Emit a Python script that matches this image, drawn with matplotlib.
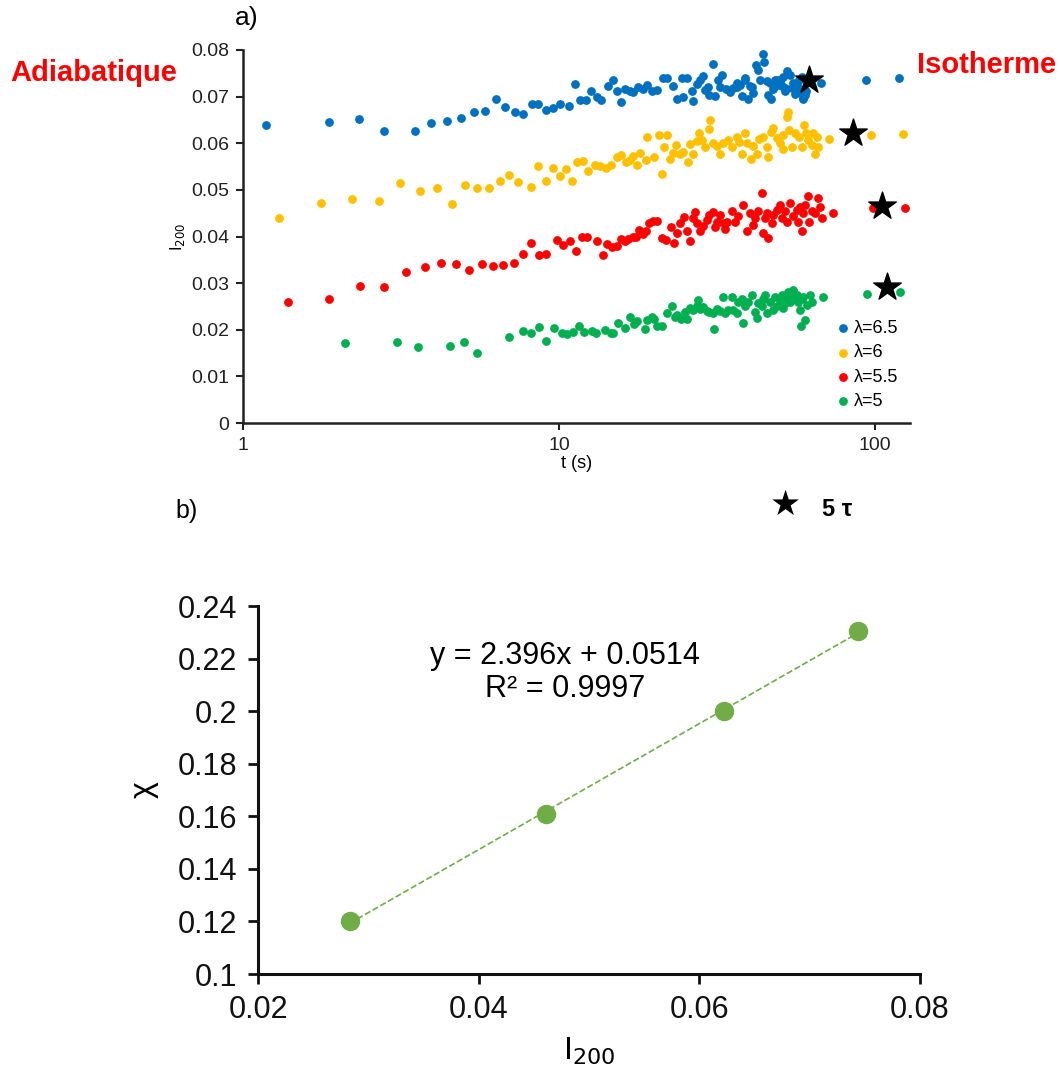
import matplotlib
matplotlib.use("Agg")
import matplotlib.pyplot as plt
import numpy as np

plt.rcParams['font.family'] = ['Liberation Sans', 'DejaVu Sans']

# ---- panel a) : I200 versus time, one series per lambda ----
t_65 = [1.18, 1.87, 2.32, 2.80, 3.50, 3.94, 4.43, 4.90, 5.37, 5.83, 6.32,
        6.75, 7.26, 7.71, 8.19, 8.60, 9.10, 9.55, 10.07, 10.78, 11.23, 11.65, 12.17,
        12.60, 13.16, 13.55, 14.33, 14.79, 15.22, 15.67, 16.18, 16.78, 17.19, 17.83,
        18.40, 18.95, 19.65, 20.38, 21.39, 21.91, 22.89, 23.57, 24.44, 24.62, 25.35,
        26.29, 26.49, 27.28, 27.94, 28.63, 28.97, 29.7, 29.91, 30.65, 31.17, 31.94,
        32.3, 32.73, 33.78, 34.78, 35.63, 36.5, 36.68, 37.4, 37.86, 38.77, 38.8, 39.73,
        40.2, 40.72, 41.2, 42.03, 42.75, 43.27, 44.12, 44.55, 45.43, 45.98, 46.5,
        46.77, 47.69, 48.3, 49.4, 49.45, 50.06, 50.7, 51.29, 51.9, 51.91, 52.81,
        53.83, 54.5, 55.2, 55.84, 56.5, 56.53, 57.62, 57.9, 58.6, 58.61, 59.3, 59.33,
        60.0, 60.5, 61.98, 67.47, 93.4, 119.1]
i_65 = [0.0639, 0.0646, 0.0651, 0.0627, 0.0627, 0.0644, 0.0647, 0.0654, 0.0667, 0.0670, 0.0694,
        0.0677, 0.0668, 0.0662, 0.0685, 0.0685, 0.0672, 0.0675, 0.0684, 0.0679, 0.0727, 0.0692, 0.0692,
        0.0713, 0.0700, 0.0692, 0.0723, 0.0736, 0.0713, 0.0688, 0.0716, 0.0713, 0.0709, 0.0720,
        0.0716, 0.0725, 0.0713, 0.0715, 0.0740, 0.0740, 0.0723, 0.0695, 0.0741, 0.0699, 0.0741,
        0.0711, 0.0690, 0.0728, 0.0736, 0.0745, 0.0715, 0.0720, 0.0704, 0.0770, 0.0702, 0.0736,
        0.0720, 0.0747, 0.0716, 0.0709, 0.0718, 0.0729, 0.0720, 0.0725, 0.0702, 0.0736, 0.0740, 0.0695,
        0.0722, 0.0720, 0.0707, 0.0768, 0.0758, 0.0736, 0.0791, 0.0774, 0.0733, 0.0704, 0.0729,
        0.0695, 0.0716, 0.0736, 0.0736, 0.0725, 0.0733, 0.0723, 0.0743, 0.0711, 0.0718, 0.0754,
        0.0747, 0.0718, 0.0730, 0.0706, 0.0725, 0.0722, 0.0736, 0.0709, 0.0707, 0.0743, 0.0695, 0.0697,
        0.0704, 0.0713, 0.0736, 0.0730, 0.0736, 0.0740]

t_6 = [1.30, 1.77, 2.22, 2.69, 3.15, 3.64, 4.11, 4.59, 5.04, 5.51, 5.99,
       6.51, 6.96, 7.43, 8.13, 8.60, 9.10, 9.55, 10.07, 10.52, 10.97, 11.43, 11.94,
       12.39, 13.00, 13.48, 14.09, 14.57, 15.30, 15.67, 16.29, 16.78, 17.11, 17.62,
       18.05, 18.85, 18.95, 19.98, 20.78, 21.14, 21.50, 22.02, 22.45, 22.89, 23.46,
       24.16, 24.75, 25.67, 25.98, 26.49, 27.28, 27.81, 28.29, 28.97, 29.91, 30.05,
       30.80, 31.70, 32.32, 33.12, 34.35, 35.19, 36.50, 37.22, 37.86, 38.77, 39.45,
       40.42, 41.21, 42.23, 43.05, 44.33, 45.43, 45.98, 46.77, 47.69, 48.86, 50.06,
       51.05, 51.29, 52.55, 53.19, 53.58, 54.50, 55.84, 57.62, 58.61, 59.62, 60.50,
       61.53, 63.04, 63.81, 64.59, 65.71, 66.19, 71.72, 97.1, 122.9]
i_6 = [0.0440, 0.0471, 0.0481, 0.0476, 0.0514, 0.0498, 0.0505, 0.0470, 0.0511, 0.0505, 0.0504,
       0.0518, 0.0532, 0.0516, 0.0507, 0.0552, 0.0520, 0.0547, 0.0530, 0.0544, 0.0520, 0.0559, 0.0562,
       0.0541, 0.0554, 0.0552, 0.0547, 0.0554, 0.0570, 0.0575, 0.0559, 0.0564, 0.0573, 0.0554,
       0.0579, 0.0564, 0.0614, 0.0570, 0.0618, 0.0534, 0.0592, 0.0618, 0.0566, 0.0580, 0.0597,
       0.0577, 0.0582, 0.0559, 0.0599, 0.0577, 0.0604, 0.0623, 0.0607, 0.0593, 0.0630, 0.0649,
       0.0600, 0.0595, 0.0577, 0.0600, 0.0607, 0.0593, 0.0613, 0.0602, 0.0577, 0.0622, 0.0600,
       0.0566, 0.0595, 0.0577, 0.0609, 0.0614, 0.0593, 0.0570, 0.0625, 0.0632, 0.0611, 0.0600,
       0.0587, 0.0618, 0.0657, 0.0668, 0.0629, 0.0593, 0.0622, 0.0613, 0.0593, 0.0640, 0.0622,
       0.0607, 0.0597, 0.0622, 0.0577, 0.0613, 0.0593, 0.0609, 0.0618, 0.0620]

t_55 = [1.39, 1.87, 2.35, 2.80, 3.27, 3.76, 4.23, 4.73, 5.20, 5.72, 6.20, 6.67, 7.20,
        7.69, 8.18, 8.67, 9.12, 9.88, 10.32, 10.83, 11.32, 11.80, 12.29, 13.22, 13.75,
        14.16, 14.68, 15.22, 15.67, 16.18, 16.57, 17.11, 17.53, 17.96, 18.40, 18.85,
        19.32, 19.89, 20.38, 21.14, 21.82, 22.56, 23.12, 23.57, 24.15, 24.87, 25.48,
        25.98, 26.49, 26.94, 27.41, 27.94, 28.63, 29.34, 29.91, 30.65, 31.17, 31.70,
        32.32, 32.96, 33.52, 33.93, 35.2, 36.1, 36.9, 38.3, 39.3, 40.2, 41.2, 41.7,
        42.7, 43.8, 44.3, 44.9, 45.4, 46.0, 47.1, 47.7, 48.9, 50.1, 50.7, 51.9, 52.5,
        53.8, 55.1, 56.5, 57.2, 57.9, 58.6, 59.3, 60.0, 61.5, 62.0, 63.0, 64.6, 66.2,
        67.0, 67.8, 73.8, 98.8, 124.4]
i_55 = [0.0260, 0.0267, 0.0293, 0.0292, 0.0323, 0.0334, 0.0343, 0.0341, 0.0329, 0.0340, 0.0336, 0.0338, 0.0344,
        0.0363, 0.0386, 0.0361, 0.0363, 0.0393, 0.0382, 0.0391, 0.0369, 0.0400, 0.0400, 0.0391, 0.0360,
        0.0384, 0.0377, 0.0380, 0.0394, 0.0391, 0.0394, 0.0398, 0.0398, 0.0413, 0.0406, 0.0411,
        0.0430, 0.0434, 0.0434, 0.0396, 0.0393, 0.0421, 0.0387, 0.0408, 0.0430, 0.0441, 0.0411,
        0.0391, 0.0439, 0.0453, 0.0430, 0.0411, 0.0423, 0.0436, 0.0446, 0.0453, 0.0420, 0.0432,
        0.0446, 0.0429, 0.0416, 0.0432, 0.0454, 0.0432, 0.0443, 0.0468, 0.0411, 0.0450, 0.0425, 0.0439,
        0.0454, 0.0494, 0.0407, 0.0439, 0.0450, 0.0396, 0.0429, 0.0446, 0.0457, 0.0468, 0.0439, 0.0454, 0.0432,
        0.0471, 0.0443, 0.0457, 0.0432, 0.0464, 0.0412, 0.0450, 0.0468, 0.0487, 0.0432, 0.0454, 0.0450, 0.0482,
        0.0464, 0.0439, 0.0451, 0.0461, 0.0462]

t_5 = [2.10, 3.08, 3.57, 4.52, 5.02, 5.49, 6.96, 7.69, 8.15, 8.65, 9.12, 9.62,
       10.20, 10.58, 11.05, 11.57, 12.00, 12.69, 13.10, 13.99, 14.57, 14.86, 15.41,
       16.18, 16.78, 17.28, 17.70, 18.72, 19.04, 19.65, 19.98, 20.47, 21.14, 21.92,
       22.73, 23.29, 23.69, 24.28, 25.06, 25.36, 25.98, 26.62, 27.28, 27.61, 27.94,
       28.63, 29.34, 29.91, 30.80, 30.94, 31.55, 32.32, 32.96, 33.52, 34.35, 35.2,
       35.6, 36.5, 36.9, 37.8, 38.3, 38.8, 39.7, 40.7, 41.7, 42.2, 42.7, 43.8, 44.3,
       44.9, 45.4, 46.5, 47.7, 48.2, 48.9, 50.1, 50.7, 51.3, 51.9, 52.5, 53.2, 53.8,
       54.5, 55.1, 55.8, 56.5, 57.2, 57.9, 58.2, 58.6, 59.3, 60.0, 60.8, 62.3, 63.0,
       68.6, 94.1, 120.0]
i_5 = [0.0172, 0.0173, 0.0163, 0.0166, 0.0174, 0.0151, 0.0185, 0.0198, 0.0194, 0.0205, 0.0175, 0.0203,
       0.0192, 0.0191, 0.0196, 0.0209, 0.0195, 0.0198, 0.0192, 0.0199, 0.0194, 0.0192, 0.0214,
       0.0203, 0.0227, 0.0213, 0.0218, 0.0201, 0.0221, 0.0228, 0.0223, 0.0208, 0.0208, 0.0235,
       0.0250, 0.0227, 0.0232, 0.0223, 0.0239, 0.0223, 0.0246, 0.0243, 0.0250, 0.0263, 0.0244,
       0.0248, 0.0241, 0.0237, 0.0235, 0.0201, 0.0244, 0.0241, 0.0271, 0.0235, 0.0243, 0.0271,
       0.0243, 0.0235, 0.0260, 0.0267, 0.0214, 0.0250, 0.0260, 0.0275, 0.0239, 0.0225, 0.0257, 0.0250, 0.0267,
       0.0275, 0.0235, 0.0260, 0.0243, 0.0271, 0.0250, 0.0264, 0.0275, 0.0246, 0.0257, 0.0271, 0.0282, 0.0260,
       0.0278, 0.0285, 0.0271, 0.0275, 0.0260, 0.0243, 0.0208, 0.0267, 0.0271, 0.0221, 0.0253, 0.0275, 0.0260,
       0.0270, 0.0276, 0.0282]

# 5 tau markers
t_star = [62.0, 85.0, 105.0, 108.9]
i_star = [0.0736, 0.0623, 0.0466, 0.0291]

# ---- panel b) : chi versus I200 ----
i200_fit = [0.0283, 0.0461, 0.0622, 0.0744]
chi_fit = [0.120, 0.161, 0.200, 0.2305]

fig = plt.figure(figsize=(10.6, 10.75), dpi=100)

ax1 = fig.add_axes([243/1060, 1 - 423/1075, 667/1060, 373/1075])
ax1.scatter(t_65, i_65, s=28, color='#0070C0', label='λ=6.5', zorder=3)
ax1.scatter(t_6, i_6, s=28, color='#FFC000', label='λ=6', zorder=3)
ax1.scatter(t_55, i_55, s=28, color='#FF0000', label='λ=5.5', zorder=3)
ax1.scatter(t_5, i_5, s=28, color='#00B050', label='λ=5', zorder=3)
ax1.scatter(t_star, i_star, s=430, marker='*', color='black', zorder=4)

ax1.set_xscale('log')
ax1.set_xlim(1, 129)
ax1.set_ylim(0, 0.08)
ax1.set_xticks([1, 10, 100])
ax1.set_xticklabels(['1', '10', '100'])
ax1.minorticks_off()
ax1.set_yticks(np.arange(0, 0.081, 0.01))
ax1.set_yticklabels(['0', '0.01', '0.02', '0.03', '0.04', '0.05', '0.06', '0.07', '0.08'])
ax1.tick_params(labelsize=14, length=5, width=1.5, colors='#222222', pad=5)
for s in ['top', 'right']:
    ax1.spines[s].set_visible(False)
for s in ['left', 'bottom']:
    ax1.spines[s].set_linewidth(1.8)
    ax1.spines[s].set_color('#222222')
ax1.set_xlabel('t (s)', fontsize=13, labelpad=1)
ax1.set_ylabel('I$_{200}$', fontsize=12, labelpad=3)
ax1.legend(loc='upper left', bbox_to_anchor=(0.872, 0.30), frameon=False,
           fontsize=13, handletextpad=0.1, labelspacing=0.4, borderpad=0,
           handlelength=1.0, scatterpoints=1)

fig.text(247/1060, 1 - 18/1075, 'a)', fontsize=19, ha='center', va='center')
fig.text(10/1060, 1 - 73/1075, 'Adiabatique', fontsize=21, fontweight='bold',
         color='#FF0000', ha='left', va='center')
fig.text(1056/1060, 1 - 65/1075, 'Isotherme', fontsize=21, fontweight='bold',
         color='#FF0000', ha='right', va='center')

fig.text(187/1060, 1 - 511/1075, 'b)', fontsize=18, ha='center', va='center')
fig.text(785/1060, 1 - 505/1075, '★', fontsize=25, ha='center', va='center',
         family='DejaVu Sans')
fig.text(822/1060, 1 - 510/1075, '5 τ', fontsize=17, fontweight='bold', ha='left', va='center')

ax2 = fig.add_axes([258/1060, 1 - 974/1075, 662/1060, 368/1075])
coef = np.polyfit(i200_fit, chi_fit, 1)
xs = np.array([i200_fit[0], i200_fit[-1]])
ax2.plot(xs, np.polyval(coef, xs), linestyle='--', color='#70AD47', linewidth=1.2, zorder=2)
ax2.plot(i200_fit, chi_fit, 'o', color='#70AD47', markersize=13, zorder=3)
ax2.set_xlim(0.02, 0.08)
ax2.set_ylim(0.1, 0.24)
ax2.set_xticks([0.02, 0.04, 0.06, 0.08])
ax2.set_xticklabels(['0.02', '0.04', '0.06', '0.08'])
ax2.set_yticks(np.arange(0.1, 0.241, 0.02))
ax2.set_yticklabels(['0.1', '0.12', '0.14', '0.16', '0.18', '0.2', '0.22', '0.24'])
ax2.tick_params(labelsize=22, length=7, width=2, colors='#111111', pad=8)
for s in ['top', 'right']:
    ax2.spines[s].set_visible(False)
for s in ['left', 'bottom']:
    ax2.spines[s].set_linewidth(2.2)
    ax2.spines[s].set_color('#111111')
ax2.set_xlabel('I$_{200}$', fontsize=23, labelpad=8)
ax2.set_ylabel('χ', fontsize=23, labelpad=14)
ax2.text(0.0478, 0.2147, 'y = 2.396x + 0.0514\nR² = 0.9997', fontsize=22,
         ha='center', va='center', linespacing=1.15)

fig.savefig('out.png', dpi=100)
